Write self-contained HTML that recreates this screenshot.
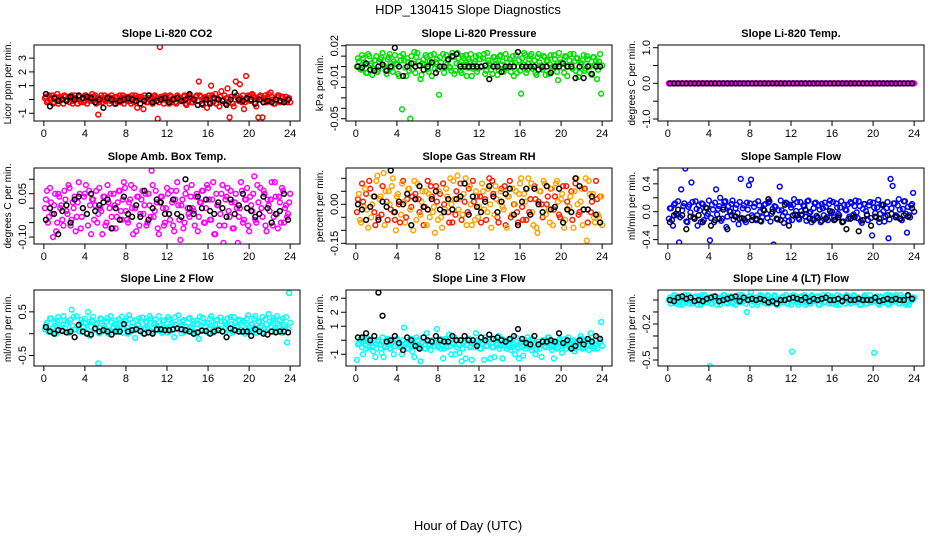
<!DOCTYPE html>
<html><head><meta charset="utf-8">
<style>
html,body{margin:0;padding:0;background:#fff;}
svg{display:block;font-family:"Liberation Sans",Arial,sans-serif;}
</style></head>
<body>
<svg id="chart" width="936" height="540" viewBox="0 0 936 540" xmlns="http://www.w3.org/2000/svg">
<text x="468" y="14" text-anchor="middle" font-size="13">HDP_130415  Slope Diagnostics</text>
<text x="468" y="530" text-anchor="middle" font-size="13">Hour of Day (UTC)</text>
</svg>
<script>
const xTicks = [0,4,8,12,16,20,24];
const titles = ["Slope Li-820 CO2","Slope Li-820 Pressure","Slope Li-820 Temp.","Slope Amb. Box Temp.","Slope Gas Stream RH","Slope Sample Flow","Slope Line 2 Flow","Slope Line 3 Flow","Slope Line 4 (LT) Flow"];
const yTitles = ["Licor ppm per min.","kPa per min.","degrees C per min.","degrees C per min.","percent per min.","ml/min per min.","ml/min per min.","ml/min per min.","ml/min per min."];
const yTickVals = [[-1,0,1,2,3],[0.02,0.01,0,-0.01,-0.02,-0.03,-0.04,-0.05],[-1,-0.5,0,0.5,1],[-0.10,-0.05,0,0.05,0.10],[-0.15,-0.10,-0.05,0,0.05,0.10],[-0.4,-0.2,0,0.2,0.4,0.6],[-0.5,0,0.5],[-1,0,1,2,3],[-0.5,-0.4,-0.3,-0.2,-0.1,0]];
const yTickLabels = [["-1","","1","2","3"],["0.02","","","-0.01","","","","-0.05"],["-1.0","","0.0","","1.0"],["-0.10","","","0.05",""],["-0.15","","","0.00","",""],["-0.4","","0.0","","0.4",""],["-0.5","","0.5"],["-1","","1","2","3"],["-0.5","","","-0.2","",""]];
const yRanges = [[-1.56,3.95],[-0.0522,0.0207],[-1.056,1.076],[-0.124,0.139],[-0.1527,0.1396],[-0.4627,0.627],[-0.74,1.0],[-1.84,3.59],[-0.55,0.083]];
const seriesColors = ["#ff0000","#00e000","#ff00ff","#ff00ff","#ffa500","#0000ff","#00ffff","#00ffff","#00ffff"];

const co2Vals = [0.1,-0.2,0.3,0.0,-0.3,0.2,0.4,-0.1,0.1,-0.3,0.2,0.0,-0.2,0.3,-0.1,0.1,-0.3,0.2,0.0,-0.2,0.3,0.1,-0.1,0.4,0.2,-0.3,-1.1,0.1,-0.2,0.3,0.0,0.2,-0.1,0.1,-0.3,0.2,0.0,-0.2,0.3,0.1,-0.1,0.2,-0.3,0.1,0.3,-0.6,0.0,0.2,-0.7,0.1,-0.2,0.3,0.0,-0.1,0.2,-1.4,3.8,0.1,-0.3,0.2,0.0,0.3,-0.2,0.1,-0.3,0.2,0.0,-0.1,0.3,-0.4,0.2,0.1,-0.2,0.0,0.3,1.3,0.2,-0.4,0.1,-0.6,0.3,1.0,-0.2,0.4,0.1,-0.5,0.6,0.0,-0.3,0.8,-1.3,0.2,-0.5,1.3,0.1,1.1,-0.2,-0.7,1.7,0.3,-0.1,0.4,0.2,-0.5,-1.3,0.3,-1.3,0.1,-0.2,0.4,0.5,0.0,-0.3,0.2,0.3,-0.1,0.2,0.0,-0.2,0.1];
const co2Vals2 = [0.2,-0.1,0.0,0.3,-0.2,0.1,-0.3,0.2,0.0,0.3,-0.1,0.2,0.1,-0.3,0.3,0.0,0.2,-0.2,0.1,0.3,-0.3,0.0,0.2,-0.1,0.3,0.1,-0.2,0.3,0.0,-0.1,0.2,-0.3,0.3,0.0,0.1,-0.2,0.3,0.1,-0.3,0.2,0.0,-0.1,0.3,-0.2,0.1,0.2,-0.3,0.0,0.3,-0.2,0.1,0.0,-0.3,0.3,0.1,-0.2,0.2,0.0,0.3,-0.1,-0.3,0.2,0.1,-0.2,0.3,0.0,-0.1,0.2,-0.3,0.1,0.3,-0.2,0.0,0.2,-0.1,0.3,-0.3,0.1,0.2,0.0,-0.2,0.3,0.1,-0.3,0.0,0.2,-0.1,0.3,0.1,-0.2,0.2,-0.3,0.0,0.3,-0.1,0.1,0.3,-0.2,0.0,0.2,-0.1,0.3,-0.3,0.1,0.2,0.0,-0.2,0.3,0.1,-0.1,0.2,-0.3,0.0,0.3,-0.2,0.1,-0.1,0.2,0.0,-0.2];
const co2Black = [0.4,-0.5,0.1,-0.1,0.0,-0.1,0.2,0.0,0.3,0.1,0.2,0.1,-0.2,0.0,-0.6,0.1,0.0,-0.3,-0.1,0.0,0.1,0.0,-0.1,-0.3,-0.1,0.3,-0.2,-0.1,0.0,0.1,-0.2,0.0,0.1,-0.1,0.0,0.4,0.0,-0.4,-0.3,0.0,-0.3,0.1,0.0,-0.1,-0.4,0.0,0.5,0.0,-0.1,0.1,0.0,-0.3,0.0,-0.2,-0.1,-0.2,0.0,-0.1,-0.2,0.0];
const presVals = [0,0.005,-0.003,0.008,0.002,-0.006,0.010,0.003,-0.002,0.006,-0.005,0.004,0.009,0.001,-0.004,0.007,0.012,-0.001,0.005,0.003,-0.007,0.010,-0.041,0.006,-0.009,0.004,-0.050,-0.003,0.014,0.009,0.005,-0.012,0.003,0.002,0.009,-0.005,0.011,0.003,-0.002,0.007,-0.027,0.004,0.012,-0.001,0.006,0,-0.004,0.009,-0.004,0.013,0.002,-0.006,0.008,0.011,-0.001,0.005,-0.009,0.003,0.010,-0.002,0.007,0,0.012,-0.004,0.006,0.001,-0.007,0.009,0.003,-0.003,0.011,0.005,-0.002,0.008,0,-0.005,0.010,0.004,-0.006,0.006,-0.026,0.002,0.011,-0.003,0.007,0.012,0,-0.006,0.009,0.004,-0.001,0.010,-0.008,0.006,0.002,-0.004,0.011,0.001,-0.013,0.007,0.003,-0.006,0.009,0,0.012,-0.002,0.005,0.008,-0.010,0.003,0.006,-0.004,0.010,0.001,-0.007,0.009,0.002,-0.012,0.005,-0.026];
const presVals2Milli = [8,-2,11,4,-6,12,1,-8,6,10,-3,7,13,0,-7,9,3,-5,11,2,-9,6,12,-1,8,-4,10,3,-6,13,1,-8,7,11,-2,5,-9,12,4,-3,9,0,-6,11,6,-1,13,-7,3,8,-4,10,2,-9,7,12,-2,5,-5,11,0,8,-7,13,3,-3,9,6,-8,10,2,-5,12,-1,7,4,-9,11,0,-4,8,13,-6,3,10,-2,6,-8,12,1,-3,9,5,-7,11,0,7,-5,13,4,-1,10,-9,6,2,12,-4,8,-6,3,11,-2,7,0,-8,9,5,-3,12,1];
const presBlack = [0,-0.001,0.003,-0.003,-0.004,0,0.002,-0.004,0,0.018,0,-0.009,0,0.003,0,0.001,-0.003,0,0.004,-0.006,0,0,0.007,0.010,0.012,0,0,0,0,0,0,0.001,-0.012,0,0,-0.005,0,0,0,0.014,0,0,0,0,-0.003,0,0,-0.006,0,0,0.003,0,0,-0.011,0,-0.011,0,-0.007,0,0];
const tempVals = [0,0,0,0,0,0,0,0,0,0,0,0,0,0,0,0,0,0,0,0,0,0,0,0,0,0,0,0,0,0,0,0,0,0,0,0,0,0,0,0,0,0,0,0,0,0,0,0,0,0,0,0,0,0,0,0,0,0,0,0,0,0,0,0,0,0,0,0,0,0,0,0,0,0,0,0,0,0,0,0,0,0,0,0,0,0,0,0,0,0,0,0,0,0,0,0,0,0,0,0,0,0,0,0,0,0,0,0,0,0,0,0,0,0,0,0,0,0,0,0];
const tempBlack = [0,0,0,0,0,0,0,0,0,0,0,0,0,0,0,0,0,0,0,0,0,0,0,0,0,0,0,0,0,0,0,0,0,0,0,0,0,0,0,0,0,0,0,0,0,0,0,0,0,0,0,0,0,0,0,0,0,0,0,0];
const boxVals = [0.00,0.06,-0.03,0.02,-0.10,0.05,-0.05,0.04,0.01,-0.06,0.03,-0.02,0.07,-0.04,0.00,-0.08,0.02,0.05,-0.03,0.04,0.08,-0.06,0.01,0.03,-0.04,0.06,-0.02,0.00,-0.09,0.04,-0.05,0.02,0.05,-0.07,0.01,-0.03,0.06,-0.01,0.03,0.07,-0.04,0.02,0.08,-0.09,0.00,0.04,-0.06,0.03,-0.02,0.05,-0.05,0.01,0.13,-0.03,0.06,-0.07,0.02,0.04,-0.06,0.00,0.05,-0.04,0.02,-0.08,0.06,0.01,-0.11,0.03,-0.05,0.07,-0.02,0.04,0.00,-0.06,0.05,-0.03,0.02,0.06,-0.05,0.08,0.03,-0.04,0.09,-0.09,0.01,-0.06,0.05,-0.12,0.03,0.07,-0.03,0.02,-0.07,0.05,-0.12,0.00,0.06,-0.04,0.03,-0.06,0.04,-0.01,0.11,-0.05,0.02,0.07,-0.03,0.05,-0.08,0.01,0.03,-0.06,0.09,-0.02,0.04,-0.05,0.06,0.00,-0.03,0.02];
const boxVals2Centi = [3,-5,7,-2,1,-8,5,0,-4,6,-1,8,-6,2,4,-3,9,-7,0,5,-2,6,-9,3,1,-5,7,-1,4,-6,8,0,-3,5,-7,2,6,-4,9,-1,-5,3,0,7,-8,4,-2,6,1,-6,5,-3,8,-1,2,-9,4,0,-5,7,-2,6,-6,3,9,-4,1,-7,5,0,-3,8,-1,4,-8,2,6,-5,0,7,-4,3,-9,5,1,-2,8,-6,4,-1,6,-7,2,0,-3,9,-5,3,7,-8,1,5,-4,8,-2,0,6,-6,3,-1,9,-3,4,-7,2,7,-5,1,-2,5];
const boxBlack = [-0.04,0.00,-0.02,-0.09,-0.01,0.01,-0.05,0.03,0.04,0.00,-0.02,0.05,-0.01,0.01,0.02,0.03,-0.07,0.00,-0.04,0.04,-0.02,-0.03,0.01,-0.03,0.06,-0.04,0.00,0.03,0.02,-0.02,-0.02,0.03,-0.02,-0.03,0.10,0.00,-0.02,0.04,0.00,0.03,-0.01,-0.02,0.02,0.00,-0.03,0.03,-0.02,0.01,0.05,0.00,-0.01,-0.03,-0.02,0.04,0.00,-0.05,-0.02,-0.01,0.05,-0.04];
const rhVals = [-0.03,0.04,-0.07,0.01,0.06,-0.02,0.09,-0.05,0.03,-0.08,0.11,0.02,-0.04,0.12,0.05,-0.06,0.00,0.07,-0.03,-0.10,0.04,-0.07,0.08,0.01,-0.05,0.06,-0.02,0.03,0.09,-0.06,0.02,-0.04,0.05,-0.01,-0.08,0.04,0.07,-0.03,-0.11,0.01,0.05,-0.05,0.08,-0.02,0.03,-0.07,0.00,0.09,-0.04,0.11,0.02,-0.06,0.04,0.10,-0.03,0.07,-0.08,0.01,0.05,-0.05,0.03,0.08,-0.02,-0.06,0.06,0.00,0.09,-0.04,0.02,-0.07,0.05,-0.01,0.07,-0.09,0.03,-0.05,0.06,0.00,-0.03,0.04,0.10,-0.06,0.01,0.06,-0.03,0.08,-0.08,0.02,-0.11,0.05,0.00,0.09,-0.04,0.03,-0.07,0.06,-0.02,0.08,0.01,-0.05,0.04,-0.09,0.07,-0.02,0.03,-0.06,0.05,0.10,-0.04,0.01,-0.08,0.06,-0.14,0.09,-0.03,0.04,-0.07,0.02,-0.05,0.03];
const rhVals2Centi = [2,-6,8,-1,4,-9,6,0,-3,9,-5,3,7,-8,1,5,-2,10,-6,3,0,-4,9,-7,2,6,-1,-10,4,8,-3,1,-8,5,9,-5,3,-1,7,-6,4,-9,0,6,-3,10,-7,2,5,-2,8,-4,1,-8,6,0,9,-6,3,-1,-7,5,2,-3,10,-9,4,7,-5,1,6,-2,-8,3,9,-4,0,5,-7,8,-1,4,-6,10,2,-3,7,-9,1,5,-5,8,0,-2,6,-8,3,9,-4,2,7,-6,1,-1,5,-9,8,0,-3,6,-2,10,-7,4,1,-5,9,-4,3,-8];
const rhBlack = [0.00,-0.02,-0.06,-0.01,0.03,-0.06,0.01,-0.01,0.13,-0.03,0.01,0.00,0.04,-0.08,0.02,0.07,-0.01,-0.02,0.02,0.05,-0.02,-0.03,0.02,-0.02,0.02,0.03,0.08,-0.04,0.03,-0.01,-0.03,0.01,0.07,0.03,-0.03,0.01,0.04,0.06,-0.04,-0.08,0.01,0.06,-0.04,0.06,0.00,-0.03,0.07,-0.02,-0.01,0.06,-0.07,-0.02,-0.03,0.10,0.07,-0.02,-0.02,0.03,-0.04,-0.07];
const flowVals = [-0.10,0.05,-0.20,0.12,-0.05,-0.44,0.32,0.08,0.62,-0.15,0.10,0.42,-0.08,0.15,-0.20,0.02,0.12,-0.12,0.06,-0.03,-0.41,0.10,-0.15,0.32,0.04,0.20,-0.10,0.14,-0.22,0.08,0.00,0.16,-0.06,0.10,-0.18,0.47,0.05,-0.12,0.13,0.38,0.46,-0.08,0.12,-0.05,0.09,-0.14,0.03,0.11,-0.09,0.15,-0.03,-0.47,0.07,-0.11,0.36,0.02,-0.16,0.13,-0.07,0.10,-0.12,0.18,0.01,-0.09,0.14,-0.04,0.08,-0.13,0.16,0.00,-0.10,0.12,-0.06,0.09,-0.15,0.05,0.13,-0.08,0.11,-0.02,0.14,-0.11,0.06,-0.05,0.15,-0.14,0.03,0.10,-0.07,0.12,-0.04,0.16,-0.09,0.08,-0.16,0.11,0.01,-0.12,0.14,-0.34,0.06,-0.08,0.17,-0.03,0.10,-0.14,0.05,-0.38,0.47,0.37,0.12,-0.06,0.18,-0.10,0.04,0.15,-0.30,-0.05,0.09,0.27];
const flowVals2Centi = [5,-12,10,-3,15,-8,2,12,-14,7,-1,14,-10,4,9,-15,11,0,-6,16,-9,3,13,-4,8,-13,6,15,-7,1,11,-11,5,-2,14,-9,9,-15,3,12,-5,7,-12,15,0,-8,10,-3,13,-14,4,8,-10,2,16,-6,-1,12,-13,6,10,-4,14,-11,1,9,-7,15,-2,-15,5,13,-9,3,11,-5,7,-12,16,0,-8,12,-3,6,-14,10,2,-10,14,-6,8,-1,15,-13,4,11,-4,9,-9,13,-2,6,-15,10,1,-7,14,-11,5,12,-5,9,3,-12,15,-3,7,-8,11,0];
const flowBlack = [-0.15,-0.05,0.03,-0.05,-0.25,-0.07,-0.10,-0.05,-0.15,0.05,-0.20,-0.12,-0.10,0.03,-0.25,-0.05,-0.07,-0.10,-0.10,-0.08,-0.12,-0.10,-0.13,0.02,0.18,0.00,-0.10,-0.12,0.10,-0.20,-0.05,-0.05,-0.05,0.03,-0.10,-0.12,-0.08,-0.13,-0.10,0.01,-0.12,-0.08,-0.15,-0.25,-0.10,-0.08,-0.28,-0.12,-0.05,-0.20,-0.07,-0.10,0.10,-0.05,-0.03,-0.08,-0.10,-0.05,-0.07,0.05];
const line2Vals = [0.10,0.25,0.05,0.35,0.15,0.00,0.30,0.20,0.08,0.40,0.12,0.28,0.02,0.55,0.38,0.10,0.18,0.05,0.32,0.15,0.25,0.50,-0.05,0.30,0.10,0.20,-0.68,0.35,0.05,0.15,0.28,0.00,0.40,0.12,0.22,0.08,0.33,0.18,0.02,0.30,0.14,0.42,0.06,0.25,-0.10,0.20,0.35,0.10,0.00,0.28,0.15,0.40,0.05,0.22,0.32,0.08,0.18,0.02,0.30,0.12,0.38,0.05,0.25,-0.08,0.20,0.42,0.10,0.28,0.04,0.16,0.34,0.08,0.22,0.00,0.30,-0.12,0.18,0.36,0.06,0.25,0.12,0.40,0.02,0.20,0.32,0.10,0.28,0.05,0.15,0.35,0.00,0.22,0.38,0.08,0.18,0.30,0.04,0.25,0.12,0.42,0.06,0.20,0.34,0.02,0.28,0.14,0.38,0.10,0.22,0.45,0.05,0.30,0.12,0.40,0.18,0.08,0.35,0.15,-0.20,0.93];
const line2Vals2Centi = [20,5,35,12,28,0,38,15,8,30,22,2,32,18,10,40,6,25,14,34,3,27,16,38,9,24,1,33,19,11,36,7,26,15,30,4,22,39,12,28,0,34,17,8,31,21,5,37,13,26,10,35,2,24,18,40,7,29,15,3,33,20,9,38,12,26,1,31,17,6,36,14,28,4,22,39,10,25,16,2,34,19,8,30,13,37,5,27,21,11,38,3,24,16,32,9,29,0,35,14,22,7,40,12,26,18,4,33,10,28,15,36,6,23,31,2,20,38,11,25];
const line2Black = [0.15,0.05,0.00,0.08,0.06,0.03,0.05,-0.08,0.20,0.05,0.00,-0.02,0.12,0.05,0.08,0.05,-0.02,0.05,0.05,0.22,0.05,0.08,0.10,0.06,0.00,0.03,0.00,0.10,0.10,0.08,0.08,0.10,0.12,0.10,0.08,0.05,0.00,0.03,0.07,0.06,0.00,0.05,0.08,0.05,-0.08,0.12,0.08,0.05,0.05,0.05,-0.05,0.10,0.05,0.00,-0.02,0.05,0.03,0.05,0.05,0.03];
const line3Vals = [-1.4,-0.2,0.1,-1.0,-0.3,0.0,-0.5,-0.2,-0.8,-1.2,0.0,-0.3,-0.9,-1.2,-0.4,0.1,-0.6,-0.2,-1.0,0.0,-0.3,-0.5,-1.0,0.9,-0.2,-0.6,0.1,-0.8,-1.2,0.2,-0.4,-1.5,-0.1,-0.6,0.5,-0.3,-0.7,0.0,-0.4,0.8,-0.2,-0.6,-1.3,0.1,-0.5,0.4,-1.0,-0.3,-1.0,0.0,-0.9,-1.5,-0.2,-1.3,0.1,-0.5,-1.4,-0.3,0.5,0.0,-0.6,-0.2,-1.4,-0.4,0.1,-1.3,-0.5,-1.2,-0.2,0.3,-0.4,-1.3,0.0,-0.6,-0.3,-0.7,-0.2,-1.0,-0.5,-1.3,-0.1,-1.1,-0.6,0.2,-0.3,-0.7,0.0,-1.0,-0.4,-0.6,-1.2,-0.1,-0.5,0.2,-0.3,-0.7,-1.3,-0.2,-0.5,0.1,-0.9,-0.3,-0.6,0.2,-0.4,-0.2,-0.8,-0.1,-0.5,0.3,-0.6,0.0,-0.3,-0.7,0.5,-0.4,0.0,-0.6,-0.2,1.3];
const line3Vals2Deci = [-3,0,-5,-1,-6,1,-2,-4,0,-6,-1,-3,2,-5,-2,0,-6,-1,-4,1,-3,-5,0,-2,-6,-1,1,-4,-3,0,-5,-2,2,-6,-1,-3,0,-4,-2,-5,1,-3,-6,0,-1,-4,-2,2,-5,-3,0,-6,-1,-3,1,-4,-2,-5,0,-1,-6,-3,2,-4,-1,-2,-5,0,-3,-6,1,-2,-4,-1,0,-5,-3,2,-6,-2,-1,-4,0,-3,-5,1,-2,-6,-1,-3,0,-4,-2,2,-5,-1,-3,-6,0,-2,-4,1,-3,-5,-1,0,-6,-2,-3,1,-5,-1,-4,0,-2,-6,-3,2,-1,-4];
const line3Black = [0.2,0.2,0.5,0.0,0.3,3.4,1.75,-0.1,0.0,0.3,-0.2,-0.7,0.2,0.0,-0.4,-0.6,0.2,0.0,-0.1,0.3,0.0,-0.1,-0.1,0.3,0.0,0.0,0.3,0.0,0.0,-0.4,0.2,0.0,0.4,0.1,0.2,0.0,-0.1,0.1,0.3,0.8,0.1,-0.2,-0.3,0.3,-0.3,-0.1,-0.1,0.0,-0.1,0.5,-0.2,0.0,-0.6,-0.4,0.0,-0.3,0.1,-0.1,0.3,0.1];
const line4Vals = [0.00,-0.03,0.02,-0.01,0.03,-0.04,0.01,-0.02,0.04,0.00,-0.03,0.02,-0.01,0.03,-0.04,0.01,0.04,-0.02,0.00,0.02,-0.55,-0.03,0.03,-0.01,0.01,-0.04,0.02,0.04,-0.02,0.00,0.03,-0.03,0.01,-0.01,0.04,-0.02,0.02,0.00,-0.10,0.03,0.07,-0.01,0.02,-0.04,0.01,0.03,-0.02,0.00,0.04,-0.03,0.02,-0.01,0.03,-0.04,0.00,0.02,-0.02,0.04,-0.03,0.01,-0.43,-0.01,0.03,-0.04,0.02,0.00,0.04,-0.02,0.01,-0.03,0.03,-0.01,0.02,-0.04,0.00,0.04,-0.02,0.01,-0.03,0.03,0.00,-0.02,0.04,-0.04,0.02,0.01,-0.03,0.03,-0.01,0.00,0.04,-0.02,0.02,-0.04,0.01,0.03,-0.03,0.00,0.04,-0.01,-0.44,0.02,-0.03,0.03,0.00,-0.02,0.04,-0.04,0.01,0.03,-0.01,0.02,-0.03,0.04,0.00,-0.02,0.03,-0.04,0.01,0.02];
const line4Vals2Centi = [2,-1,4,-3,0,3,-4,1,-2,4,0,-3,2,-1,3,-4,1,4,-2,0,-3,3,1,-4,2,-1,4,0,-3,1,3,-2,-4,2,0,4,-1,-3,1,3,-4,0,2,-2,4,-1,1,-3,3,0,-2,4,-4,1,-1,3,0,-3,2,-4,4,1,-2,0,3,-1,-4,2,-3,4,0,-1,3,-4,1,2,-2,4,0,-3,2,-4,1,3,-1,0,4,-2,-3,1,3,-1,0,-4,2,4,-3,1,-2,0,-1,3,-4,2,0,1,-3,4,-2,-1,4,0,-3,2,1,-4,3,-1,0,2];
const line4Black = [0.00,-0.01,0.02,0.03,0.01,0.02,-0.01,0.00,-0.01,0.01,0.02,0.03,-0.01,0.00,0.01,0.02,0.03,-0.01,0.02,0.00,0.01,0.00,0.01,0.00,-0.02,-0.01,-0.03,0.00,0.00,0.01,0.02,0.01,0.00,0.02,-0.01,0.01,0.00,0.01,0.02,0.00,0.00,0.01,-0.01,0.02,0.00,0.00,0.01,0.00,0.00,0.00,0.02,-0.01,0.00,0.01,0.00,0.01,0.00,0.00,0.04,0.01];

const colorSeries = [co2Vals,presVals,tempVals,boxVals,rhVals,flowVals,line2Vals,line3Vals,line4Vals];
const colorSeries2 = [co2Vals2,presVals2Milli,tempVals,boxVals2Centi,rhVals2Centi,flowVals2Centi,line2Vals2Centi,line3Vals2Deci,line4Vals2Centi];
const series2Units = [1,0.001,1,0.01,0.01,0.01,0.01,0.1,0.01];
const blackSeries = [co2Black,presBlack,tempBlack,boxBlack,rhBlack,flowBlack,line2Black,line3Black,line4Black];
const panelNames = ["co2","pressure","licor-temp","box-temp","gas-rh","sample-flow","line2-flow","line3-flow","line4-flow"];

const NS = "http://www.w3.org/2000/svg";
const svg = document.getElementById("chart");
function mk(tag, attrs, parent){const e=document.createElementNS(NS,tag);for(const k in attrs)e.setAttribute(k,attrs[k]);parent.appendChild(e);return e;}

const colLeft=[34,346,658], rowTop=[45,168,290], W=266, H=76;
for(let p=0;p<9;p++){
  const L=colLeft[p%3], T=rowTop[Math.floor(p/3)];
  const g=mk("g",{},svg);
  
  
  const xs=v=>L+W*(v+0.96)/25.92;
  const [y0,y1]=yRanges[p];
  const ys=v=>T+H*(y1-v)/(y1-y0);
  const t=mk("text",{x:L+W/2,y:T-8,"text-anchor":"middle","font-size":"11","font-weight":"bold"},g);
  t.textContent=titles[p];
  
  
  const yt=mk("text",{x:0,y:0,"text-anchor":"middle","font-size":"10",transform:`translate(${L-23},${T+H/2}) rotate(-90)`},g);
  yt.textContent=yTitles[p];
  
  
  xTicks.forEach(v=>{
    const x=xs(v);
    mk("line",{x1:x,x2:x,y1:T+H,y2:T+H+5,stroke:"#000","stroke-width":1},g);
    const lb=mk("text",{x:x,y:T+H+16,"text-anchor":"middle","font-size":"11"},g);
    lb.textContent=String(v);
    
    
  });
  yTickVals[p].forEach((v,i)=>{
    const y=ys(v);
    mk("line",{x1:L-5,x2:L,y1:y,y2:y,stroke:"#000","stroke-width":1},g);
    const s=yTickLabels[p][i];
    if(s){
      const lb=mk("text",{x:0,y:0,"text-anchor":"middle","font-size":"11",transform:`translate(${L-8},${y}) rotate(-90)`},g);
      lb.textContent=s;
      
      
    }
  });
  const cp=mk("clipPath",{id:"clip"+p},g);
  mk("rect",{x:L,y:T,width:W,height:H},cp);
  const pts=mk("g",{"clip-path":`url(#clip${p})`},g);
  const cs=colorSeries[p], n=cs.length;
  const cs2=colorSeries2[p], n2=cs2.length;
  cs2.forEach((v,i)=>{
    const hr=i*24/n2+0.2;
    let col=seriesColors[p];
    if(p===4 && i%2===0) col="#ff2000";
    const c=mk("circle",{cx:xs(hr),cy:ys(v*series2Units[p]),r:2.4,fill:"none",stroke:col,"stroke-width":1.5},pts);
    
    
  });
  cs.forEach((v,i)=>{
    const hr=i*24/n+0.1;
    let col=seriesColors[p];
    if(p===4 && i%3===0) col="#ff2000";
    const c=mk("circle",{cx:xs(hr),cy:ys(v),r:2.4,fill:"none",stroke:col,"stroke-width":1.5},pts);
    
    
  });
  const bs=blackSeries[p];
  bs.forEach((v,j)=>{
    const hr=j*0.4+0.2;
    const c=mk("circle",{cx:xs(hr),cy:ys(v),r:2.4,fill:"none",stroke:"#000","stroke-width":1.5},pts);
    
    
  });
  const box=mk("rect",{x:L,y:T,width:W,height:H,fill:"none",stroke:"#000","stroke-width":1},g);
  
  
}
</script>
</body></html>
